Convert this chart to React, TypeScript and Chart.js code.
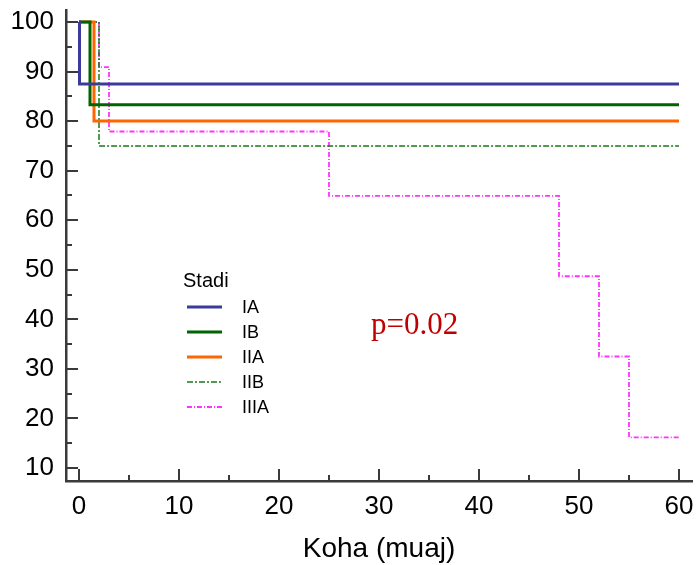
import React, { useEffect, useRef } from "react";
import { Chart, registerables } from "chart.js";
Chart.register(...registerables);

const seriesNames = ["IA", "IB", "IIA", "IIB", "IIIA"];
const iaTimes = [0, 0.05, 60];
const iaValues = [100, 87.5, 87.5];
const ibTimes = [0, 1.1, 60];
const ibValues = [100, 83.3, 83.3];
const iiaTimes = [0, 1.5, 60];
const iiaValues = [100, 80, 80];
const iibTimes = [0, 2, 60];
const iibValues = [100, 75, 75];
const iiiaTimes = [0, 2, 3, 25, 48, 52, 55, 60];
const iiiaValues = [100, 90.9, 77.9, 64.9, 48.7, 32.5, 16.2, 16.2];
const xTickValues = [0, 10, 20, 30, 40, 50, 60];
const yTickValues = [10, 20, 30, 40, 50, 60, 70, 80, 90, 100];
const xMinorTicks = [5, 15, 25, 35, 45, 55];
const yMinorTicks = [15, 25, 35, 45, 55, 65, 75, 85, 95];
const pValueText = "p=0.02";
const legendTitle = "Stadi";
const xTitle = "Koha (muaj)";

const colors = ["#3b3b9b", "#006400", "#ff6600", "#1a7a1a", "#ff33ff"];
const widths = [3, 3, 3, 1.5, 1.8];
const dashes: number[][] = [[], [], [], [6, 2, 2, 2], [5, 2, 1, 2]];

const toPts = (t: number[], v: number[]) => t.map((x, i) => ({ x, y: v[i] }));
const SANS = "'Liberation Sans', Arial, sans-serif";

export default function App() {
  const ref = useRef<HTMLCanvasElement | null>(null);
  useEffect(() => {
    if (!ref.current) return;
    const all = [
      toPts(iaTimes, iaValues),
      toPts(ibTimes, ibValues),
      toPts(iiaTimes, iiaValues),
      toPts(iibTimes, iibValues),
      toPts(iiiaTimes, iiiaValues),
    ];
    const axisColor = "#3a3a3a";
    const overlay = {
      id: "overlay",
      afterDraw(chart: any) {
        const ctx = chart.ctx;
        const xs = chart.scales.x;
        const ys = chart.scales.y;
        const left = chart.chartArea.left;
        const bottom = chart.chartArea.bottom;
        ctx.save();
        ctx.strokeStyle = axisColor;
        ctx.lineWidth = 2;
        ctx.beginPath();
        xTickValues.forEach((v) => {
          const p = Math.round(xs.getPixelForValue(v));
          ctx.moveTo(p, bottom);
          ctx.lineTo(p, bottom - 12);
        });
        xMinorTicks.forEach((v) => {
          const p = Math.round(xs.getPixelForValue(v));
          ctx.moveTo(p, bottom);
          ctx.lineTo(p, bottom - 6);
        });
        yTickValues.forEach((v) => {
          const p = Math.round(ys.getPixelForValue(v));
          ctx.moveTo(left, p);
          ctx.lineTo(left + 12, p);
        });
        yMinorTicks.forEach((v) => {
          const p = Math.round(ys.getPixelForValue(v));
          ctx.moveTo(left, p);
          ctx.lineTo(left + 6, p);
        });
        ctx.stroke();

        // x-axis title
        ctx.fillStyle = "#000";
        ctx.font = `28px ${SANS}`;
        ctx.textAlign = "center";
        ctx.textBaseline = "alphabetic";
        ctx.fillText(xTitle, (chart.chartArea.left + chart.chartArea.right) / 2, 557);

        // legend
        ctx.font = `20px ${SANS}`;
        ctx.textBaseline = "middle";
        ctx.textAlign = "left";
        ctx.fillText(legendTitle, 183, 281);
        const rowY = [307, 332, 357, 382, 407];
        seriesNames.forEach((n, i) => {
          ctx.save();
          ctx.strokeStyle = colors[i];
          ctx.lineWidth = widths[i];
          ctx.setLineDash(dashes[i]);
          ctx.beginPath();
          ctx.moveTo(187, rowY[i]);
          ctx.lineTo(222, rowY[i]);
          ctx.stroke();
          ctx.restore();
          ctx.fillStyle = "#000";
          ctx.font = `18px ${SANS}`;
          ctx.fillText(n, 242, rowY[i] + 1);
        });

        ctx.fillStyle = "#c00000";
        ctx.font = "31px 'Liberation Serif', 'Times New Roman', serif";
        ctx.fillText(pValueText, 371, 326);
        ctx.restore();
      },
    };
    const chart = new Chart(ref.current, {
      type: "line",
      data: {
        datasets: all.map((d, i) => ({
          label: seriesNames[i],
          data: d,
          stepped: "before" as const,
          borderColor: colors[i],
          borderWidth: widths[i],
          borderDash: dashes[i],
          pointRadius: 0,
          fill: false,
          tension: 0,
        })),
      },
      options: {
        animation: false,
        responsive: false,
        maintainAspectRatio: false,
        layout: { padding: { top: 10, right: 4, left: 0, bottom: 0 } },
        plugins: { legend: { display: false }, tooltip: { enabled: false } },
        scales: {
          x: {
            type: "linear",
            min: -1.3,
            max: 61.3,
            afterBuildTicks: (s: any) => {
              s.ticks = xTickValues.map((v) => ({ value: v }));
            },
            afterFit: (s: any) => {
              s.height = 84;
              s.paddingLeft = 0;
              s.paddingRight = 0;
            },
            grid: { display: false, drawTicks: false },
            border: { display: true, color: axisColor, width: 2.5 },
            ticks: {
              color: "#000",
              padding: 10,
              font: { size: 26, family: SANS },
              maxRotation: 0,
              autoSkip: false,
            },
          },
          y: {
            type: "linear",
            min: 7.38,
            max: 102.42,
            afterBuildTicks: (s: any) => {
              s.ticks = yTickValues.map((v) => ({ value: v }));
            },
            afterFit: (s: any) => {
              s.width = 66;
              s.paddingTop = 0;
              s.paddingBottom = 0;
            },
            grid: { display: false, drawTicks: false },
            border: { display: true, color: axisColor, width: 2.5 },
            ticks: {
              color: "#000",
              padding: 12,
              font: { size: 26, family: SANS },
              autoSkip: false,
            },
          },
        },
      },
      plugins: [overlay],
    } as any);
    return () => chart.destroy();
  }, []);
  return (
    <div style={{ position: "absolute", left: 0, top: 0, width: 696, height: 565 }}>
      <canvas ref={ref} width={696} height={565} style={{ width: 696, height: 565 }} />
    </div>
  );
}
